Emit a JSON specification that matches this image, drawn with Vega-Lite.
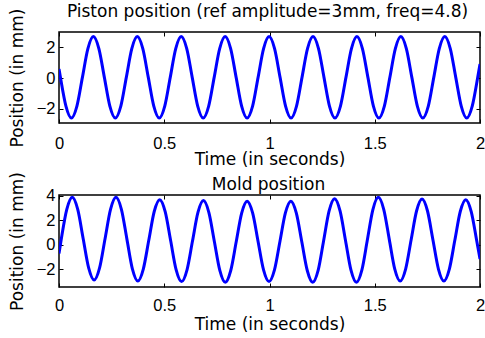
{
  "$schema": "https://vega.github.io/schema/vega-lite/v6.json",
  "autosize": {"type": "none"},
  "padding": {"left": 59, "top": 32, "right": 426, "bottom": 306},
  "background": "white",
  "bounds": "flush",
  "spacing": 72,
  "config": {
    "view": {"stroke": "black", "strokeWidth": 1.5},
    "axis": {
      "grid": false, "domain": false, "tickColor": "black", "tickSize": -4, "tickWidth": 1,
      "labelColor": "black", "labelFont": "Liberation Sans", "labelFontSize": 16.5, "labelFlush": false,
      "titleColor": "black", "titleFont": "DejaVu Sans", "titleFontSize": 17, "titleFontWeight": "normal"
    }
  },
  "datasets": {
    "piston": [
      {"t": 0.0, "y": 0.60}, {"t": 0.0068, "y": 0.05}, {"t": 0.0329, "y": -1.82},
      {"t": 0.0590, "y": -2.60}, {"t": 0.0851, "y": -1.82}, {"t": 0.1112, "y": 0.05}, {"t": 0.1373, "y": 1.92}, {"t": 0.1633, "y": 2.70}, {"t": 0.1894, "y": 1.92}, {"t": 0.2155, "y": 0.05}, {"t": 0.2416, "y": -1.82},
      {"t": 0.2677, "y": -2.60}, {"t": 0.2937, "y": -1.82}, {"t": 0.3198, "y": 0.05}, {"t": 0.3459, "y": 1.92}, {"t": 0.3720, "y": 2.70}, {"t": 0.3981, "y": 1.92}, {"t": 0.4242, "y": 0.05}, {"t": 0.4503, "y": -1.82},
      {"t": 0.4763, "y": -2.60}, {"t": 0.5024, "y": -1.82}, {"t": 0.5285, "y": 0.05}, {"t": 0.5546, "y": 1.92}, {"t": 0.5807, "y": 2.70}, {"t": 0.6068, "y": 1.92}, {"t": 0.6328, "y": 0.05}, {"t": 0.6589, "y": -1.82},
      {"t": 0.6850, "y": -2.60}, {"t": 0.7111, "y": -1.82}, {"t": 0.7372, "y": 0.05}, {"t": 0.7633, "y": 1.92}, {"t": 0.7893, "y": 2.70}, {"t": 0.8154, "y": 1.92}, {"t": 0.8415, "y": 0.05}, {"t": 0.8676, "y": -1.82},
      {"t": 0.8937, "y": -2.60}, {"t": 0.9197, "y": -1.82}, {"t": 0.9458, "y": 0.05}, {"t": 0.9719, "y": 1.92}, {"t": 0.9980, "y": 2.70}, {"t": 1.0241, "y": 1.92}, {"t": 1.0502, "y": 0.05}, {"t": 1.0763, "y": -1.82},
      {"t": 1.1023, "y": -2.60}, {"t": 1.1284, "y": -1.82}, {"t": 1.1545, "y": 0.05}, {"t": 1.1806, "y": 1.92}, {"t": 1.2067, "y": 2.70}, {"t": 1.2328, "y": 1.92}, {"t": 1.2588, "y": 0.05}, {"t": 1.2849, "y": -1.82},
      {"t": 1.3110, "y": -2.60}, {"t": 1.3371, "y": -1.82}, {"t": 1.3632, "y": 0.05}, {"t": 1.3893, "y": 1.92}, {"t": 1.4153, "y": 2.70}, {"t": 1.4414, "y": 1.92}, {"t": 1.4675, "y": 0.05}, {"t": 1.4936, "y": -1.82},
      {"t": 1.5197, "y": -2.60}, {"t": 1.5457, "y": -1.82}, {"t": 1.5718, "y": 0.05}, {"t": 1.5979, "y": 1.92}, {"t": 1.6240, "y": 2.70}, {"t": 1.6501, "y": 1.92}, {"t": 1.6762, "y": 0.05}, {"t": 1.7023, "y": -1.82},
      {"t": 1.7283, "y": -2.60}, {"t": 1.7544, "y": -1.82}, {"t": 1.7805, "y": 0.05}, {"t": 1.8066, "y": 1.92}, {"t": 1.8327, "y": 2.70}, {"t": 1.8588, "y": 1.92}, {"t": 1.8848, "y": 0.05}, {"t": 1.9109, "y": -1.82},
      {"t": 1.9370, "y": -2.60}, {"t": 1.9631, "y": -1.82}, {"t": 1.9892, "y": 0.05}, {"t": 2.0, "y": 0.91}
    ],
    "mold": [
      {"t": 0.0, "y": -0.70}, {"t": 0.0111, "y": 0.50}, {"t": 0.0370, "y": 2.90},
      {"t": 0.0630, "y": 3.89}, {"t": 0.0890, "y": 2.90}, {"t": 0.1149, "y": 0.50}, {"t": 0.1409, "y": -1.89},
      {"t": 0.1669, "y": -2.88}, {"t": 0.1928, "y": -1.89}, {"t": 0.2188, "y": 0.50}, {"t": 0.2448, "y": 2.90},
      {"t": 0.2707, "y": 3.89}, {"t": 0.2967, "y": 2.89}, {"t": 0.3226, "y": 0.47}, {"t": 0.3486, "y": -1.96},
      {"t": 0.3746, "y": -2.96}, {"t": 0.4005, "y": -1.98}, {"t": 0.4265, "y": 0.37}, {"t": 0.4524, "y": 2.73},
      {"t": 0.4784, "y": 3.70}, {"t": 0.5044, "y": 2.72}, {"t": 0.5303, "y": 0.35}, {"t": 0.5563, "y": -2.03},
      {"t": 0.5823, "y": -3.01}, {"t": 0.6082, "y": -2.04}, {"t": 0.6342, "y": 0.31}, {"t": 0.6601, "y": 2.65},
      {"t": 0.6861, "y": 3.62}, {"t": 0.7121, "y": 2.64}, {"t": 0.7380, "y": 0.28}, {"t": 0.7640, "y": -2.09},
      {"t": 0.7900, "y": -3.07}, {"t": 0.8159, "y": -2.10}, {"t": 0.8419, "y": 0.25}, {"t": 0.8678, "y": 2.60},
      {"t": 0.8938, "y": 3.57}, {"t": 0.9198, "y": 2.61}, {"t": 0.9457, "y": 0.28}, {"t": 0.9717, "y": -2.05},
      {"t": 0.9977, "y": -3.01}, {"t": 1.0236, "y": -2.05}, {"t": 1.0496, "y": 0.28}, {"t": 1.0755, "y": 2.61},
      {"t": 1.1015, "y": 3.57}, {"t": 1.1275, "y": 2.60}, {"t": 1.1534, "y": 0.25}, {"t": 1.1794, "y": -2.10},
      {"t": 1.2054, "y": -3.07}, {"t": 1.2313, "y": -2.07}, {"t": 1.2573, "y": 0.36}, {"t": 1.2832, "y": 2.78},
      {"t": 1.3092, "y": 3.78}, {"t": 1.3352, "y": 2.78}, {"t": 1.3611, "y": 0.36}, {"t": 1.3871, "y": -2.07},
      {"t": 1.4131, "y": -3.07}, {"t": 1.4390, "y": -2.05}, {"t": 1.4650, "y": 0.41}, {"t": 1.4909, "y": 2.87},
      {"t": 1.5169, "y": 3.89}, {"t": 1.5429, "y": 2.89}, {"t": 1.5688, "y": 0.47}, {"t": 1.5948, "y": -1.96},
      {"t": 1.6208, "y": -2.96}, {"t": 1.6467, "y": -1.98}, {"t": 1.6727, "y": 0.40}, {"t": 1.6986, "y": 2.77},
      {"t": 1.7246, "y": 3.75}, {"t": 1.7506, "y": 2.77}, {"t": 1.7765, "y": 0.40}, {"t": 1.8025, "y": -1.98},
      {"t": 1.8285, "y": -2.96}, {"t": 1.8544, "y": -1.98}, {"t": 1.8804, "y": 0.37}, {"t": 1.9063, "y": 2.73},
      {"t": 1.9323, "y": 3.70}, {"t": 1.9583, "y": 2.72}, {"t": 1.9842, "y": 0.35}, {"t": 2.0, "y": -1.15}
    ]
  },
  "vconcat": [
    {
      "width": 421, "height": 91,
      "data": {"name": "piston"},
      "layer": [
        {
          "mark": {"type": "line", "color": "#0000ff", "strokeWidth": 3, "clip": true, "interpolate": "monotone"},
          "encoding": {
            "x": {"field": "t", "type": "quantitative", "scale": {"domain": [0, 2], "nice": false, "zero": false},
                  "axis": {"orient": "bottom", "values": [0, 0.5, 1, 1.5, 2], "format": "~g", "title": "Time (in seconds)", "labelPadding": 16, "labelBaseline": "top", "titleX": 210.5, "titleY": 41.5, "titleAlign": "center", "titleBaseline": "alphabetic"}},
            "y": {"field": "y", "type": "quantitative", "scale": {"domain": [-2.92, 3.0], "nice": false, "zero": false},
                  "axis": {"orient": "left", "values": [-2, 0, 2], "title": "Position (in mm)", "labelPadding": 8, "titleX": -36.5, "titleY": 45.5, "titleAlign": "center", "titleBaseline": "alphabetic", "titleAngle": 270}}
          }
        },
        {
          "mark": {"type": "line", "strokeOpacity": 0, "clip": true},
          "encoding": {
            "x": {"field": "t", "type": "quantitative", "axis": {"orient": "top", "values": [0, 0.5, 1, 1.5, 2], "labels": false, "title": "Piston position (ref amplitude=3mm, freq=4.8)", "titleX": 208, "titleY": -15.3, "titleAlign": "center", "titleBaseline": "alphabetic"}},
            "y": {"field": "y", "type": "quantitative", "axis": {"orient": "right", "values": [-2, 0, 2], "labels": false, "title": null}}
          }
        }
      ],
      "resolve": {"axis": {"x": "independent", "y": "independent"}}
    },
    {
      "width": 421, "height": 92,
      "data": {"name": "mold"},
      "layer": [
        {
          "mark": {"type": "line", "color": "#0000ff", "strokeWidth": 3, "clip": true, "interpolate": "monotone"},
          "encoding": {
            "x": {"field": "t", "type": "quantitative", "scale": {"domain": [0, 2], "nice": false, "zero": false},
                  "axis": {"orient": "bottom", "values": [0, 0.5, 1, 1.5, 2], "format": "~g", "title": "Time (in seconds)", "labelPadding": 14, "labelBaseline": "top", "titleX": 210.5, "titleY": 42, "titleAlign": "center", "titleBaseline": "alphabetic"}},
            "y": {"field": "y", "type": "quantitative", "scale": {"domain": [-3.45, 4.08], "nice": false, "zero": false},
                  "axis": {"orient": "left", "values": [-2, 0, 2, 4], "title": "Position (in mm)", "labelPadding": 8, "titleX": -36.5, "titleY": 46, "titleAlign": "center", "titleBaseline": "alphabetic", "titleAngle": 270}}
          }
        },
        {
          "mark": {"type": "line", "strokeOpacity": 0, "clip": true},
          "encoding": {
            "x": {"field": "t", "type": "quantitative", "axis": {"orient": "top", "values": [0, 0.5, 1, 1.5, 2], "labels": false, "title": "Mold position", "titleX": 209, "titleY": -5.7, "titleAlign": "center", "titleBaseline": "alphabetic"}},
            "y": {"field": "y", "type": "quantitative", "axis": {"orient": "right", "values": [-2, 0, 2, 4], "labels": false, "title": null}}
          }
        }
      ],
      "resolve": {"axis": {"x": "independent", "y": "independent"}}
    }
  ]
}
